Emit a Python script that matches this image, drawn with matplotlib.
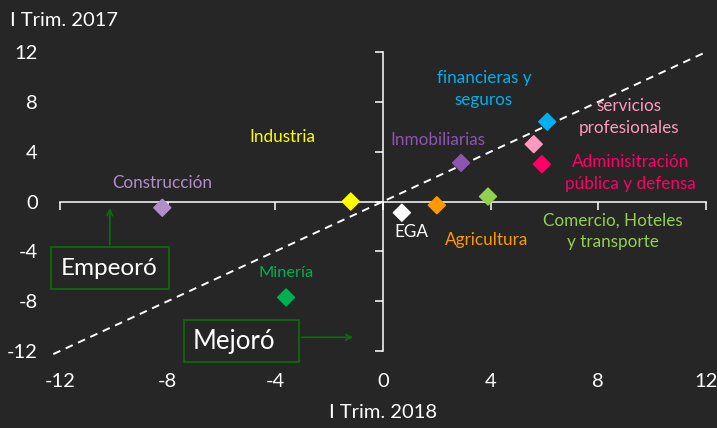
import numpy as np
import matplotlib.pyplot as plt
from matplotlib import rcParams
from matplotlib.patches import Rectangle

rcParams['font.family'] = ['Lato', 'DejaVu Sans']
rcParams['axes.unicode_minus'] = False

# crecimiento por sector: I Trim. 2018 (x) vs I Trim. 2017 (y)
sectores = ['Construcción', 'Industria', 'Minería', 'EGA', 'Agricultura',
            'Comercio, Hoteles\ny transporte', 'Inmobiliarias',
            'financieras y\nseguros', 'servicios\nprofesionales',
            'Adminisitración\npública y defensa']
trim2018 = [-8.2, -1.2, -3.6, 0.7, 2.0, 3.9, 2.9, 6.1, 5.6, 5.9]
trim2017 = [-0.5, 0.0, -7.7, -0.9, -0.3, 0.4, 3.1, 6.4, 4.6, 3.0]
colores = ['#b28dcb', '#ffff00', '#00b050', '#ffffff', '#ff9900',
           '#92d050', '#8e55b0', '#00b0f0', '#ff99bf', '#ff0066']
# donde va cada etiqueta
lab_x = [-8.2, -3.75, -3.6, 1.05, 3.85, 8.55, 2.05, 3.75, 9.15, 9.2]
lab_y = [1.45, 5.2, -5.7, -2.45, -3.1, -2.4, 4.9, 9.0, 6.8, 2.3]
lab_size = [12.3, 12.3, 11.8, 12.3, 12.3, 12.3, 12.3, 12.3, 12.3, 12.3]

ticks = [-12, -8, -4, 0, 4, 8, 12]
bg = '#262626'
verde = '#0d6a0d'

fig = plt.figure(figsize=(7.17, 4.28), dpi=100, facecolor=bg)
ax = fig.add_axes([0.0837, 0.1799, 0.901, 0.6986])
ax.set_facecolor(bg)
ax.set_xlim(-12, 12)
ax.set_ylim(-12, 12)

# ejes cruzando en el origen
for s in ['top', 'right']:
    ax.spines[s].set_visible(False)
for s in ['left', 'bottom']:
    ax.spines[s].set_position('zero')
    ax.spines[s].set_color('white')
    ax.spines[s].set_linewidth(1.1)
ax.set_xticks(ticks)
ax.set_yticks(ticks)
ax.tick_params(colors='white', direction='out', length=5.5, width=1.1,
               labelbottom=False, labelleft=False)

# etiquetas de los ejes en los bordes
ax2 = fig.add_axes(ax.get_position(), sharex=ax, sharey=ax, frameon=False)
ax2.tick_params(length=0, colors='white', labelsize=14.5)
ax2.tick_params(axis='x', pad=16)
ax2.tick_params(axis='y', pad=16)

# linea de 45 grados
diag = np.array([-12.25, 12])
ax.plot(diag, diag, color='white', ls=(0, (4, 3)), lw=1.4, clip_on=False, zorder=2)

ax.scatter(trim2018, trim2017, marker='D', s=75, c=colores, zorder=4, clip_on=False)
for i in range(len(sectores)):
    ax.text(lab_x[i], lab_y[i], sectores[i], color=colores[i], fontsize=lab_size[i],
            ha='center', va='center', linespacing=1.45, zorder=5)

# cajas Empeoró / Mejoró
ax.add_patch(Rectangle((-12.33, -7.06), 4.38, 3.37, fc=bg, ec=verde, lw=1.3,
                       zorder=6, clip_on=False))
ax.text(-10.16, -5.38, 'Empeoró', color='white', fontsize=17.5, ha='center', va='center',
        zorder=7)
ax.annotate('', xy=(-10.15, -0.3), xytext=(-10.15, -3.69),
            arrowprops=dict(arrowstyle='->', color=verde, lw=1.3), zorder=6)

ax.add_patch(Rectangle((-7.4, -12.92), 4.28, 3.37, fc=bg, ec=verde, lw=1.3,
                       zorder=6, clip_on=False))
ax.text(-5.55, -11.24, 'Mejoró', color='white', fontsize=18.5, ha='center', va='center',
        zorder=7, clip_on=False)
ax.annotate('', xy=(-1.0, -10.9), xytext=(-3.12, -10.9),
            arrowprops=dict(arrowstyle='->', color=verde, lw=1.3), zorder=6)

fig.text(0.014, 0.953, 'I Trim. 2017', color='white', fontsize=14.5, ha='left', va='center')
fig.text(0.534, 0.037, 'I Trim. 2018', color='white', fontsize=14.5, ha='center', va='center')

fig.savefig('out.png', dpi=100, facecolor=bg)
